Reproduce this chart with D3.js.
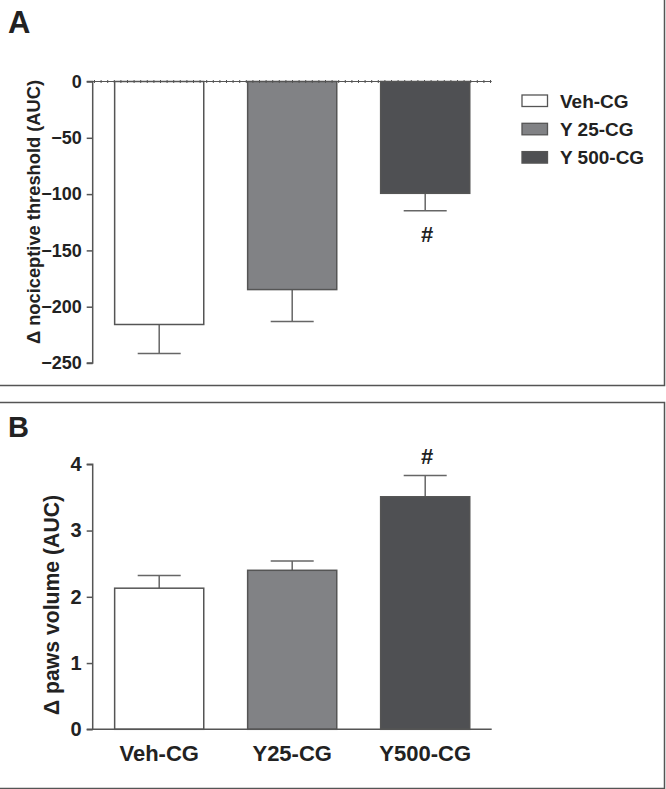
<!DOCTYPE html>
<html><head><meta charset="utf-8">
<script src="https://cdn.jsdelivr.net/npm/d3@7"></script>
<style>body{margin:0;background:#fff}svg{display:block}text{font-family:"Liberation Sans",Arial,sans-serif;font-weight:bold;fill:#222}</style>
</head><body><svg id="c" width="666" height="789"></svg>
<script>
const categories = ["Veh-CG","Y25-CG","Y500-CG"];
const legendLabels = ["Veh-CG","Y 25-CG","Y 500-CG"];
const colors = ["#ffffff","#818285","#4f5053"];
const thresholdMean = [-215.8,-184.8,-99.3];
const thresholdErr = [25.7,28.3,15.4];
const thresholdTicks = [0,-50,-100,-150,-200,-250];
const pawsMean = [2.13,2.40,3.51];
const pawsErr = [0.19,0.14,0.32];
const pawsTicks = [0,1,2,3,4];
const markA = ["","","#"];
const markB = ["","","#"];

const svg = d3.select("#c");
const axisCol = "#555";

svg.append("path").attr("d","M0,385.5 H664.5 V0").attr("fill","none").attr("stroke",axisCol).attr("stroke-width",1.5);
svg.append("path").attr("d","M0,402.5 H664.5 V788.5 H0").attr("fill","none").attr("stroke",axisCol).attr("stroke-width",1.5);

svg.append("text").attr("x",8).attr("y",33).attr("font-size",31).text("A");
svg.append("text").attr("x",8).attr("y",437).attr("font-size",29).text("B");

const x = d3.scaleBand().domain(categories).range([92.7,491.7]).paddingInner(0.33).paddingOuter(0.165);

function panel(opts){
  const g = svg.append("g");
  const y = d3.scaleLinear().domain(opts.domain).range(opts.range);
  categories.forEach((c,i)=>{
    const v = opts.mean[i];
    const y0 = y(0), y1 = y(v);
    const e = y(v + Math.sign(v)*opts.err[i]);
    const cx = x(c)+x.bandwidth()/2;
    g.append("line").attr("x1",cx).attr("x2",cx).attr("y1",y1).attr("y2",e).attr("stroke","#666").attr("stroke-width",1.5);
    g.append("line").attr("x1",cx-21.5).attr("x2",cx+21.5).attr("y1",e).attr("y2",e).attr("stroke","#666").attr("stroke-width",1.5);
    g.append("rect").attr("x",x(c)).attr("width",x.bandwidth())
      .attr("y",Math.min(y0,y1)).attr("height",Math.abs(y1-y0))
      .attr("fill",colors[i]).attr("stroke","#555").attr("stroke-width",1.5);
    if(opts.marks[i]){
      const my = v<0 ? e+opts.markOff : e-opts.markOff;
      g.append("text").attr("x",cx+2).attr("y",my).attr("text-anchor","middle").attr("font-size",22).text(opts.marks[i]);
    }
  });
  const ax = d3.axisLeft(y).tickValues(opts.ticks).tickSize(6).tickPadding(5).tickFormat(d3.format("d"));
  const ag = g.append("g").attr("transform","translate(92.7,0)").call(ax);
  ag.select(".domain").attr("stroke",axisCol).attr("stroke-width",1.5).attr("d",`M-6,${y(opts.domain[0])}H0V${y(opts.domain[1])}H-6`);
  ag.selectAll(".tick line").attr("stroke",axisCol).attr("stroke-width",1.5);
  ag.selectAll(".tick text").attr("font-size",opts.tickSize).attr("fill","#222").attr("font-family","Liberation Sans, Arial, sans-serif").attr("font-weight","bold");
  g.append("text").attr("transform",`translate(${opts.titleX},${opts.titleY}) rotate(-90)`).attr("text-anchor","middle").attr("font-size",opts.titleSize).text(opts.title);
  return {g,y};
}

const A = panel({domain:[0,-250],range:[81.5,363],mean:thresholdMean,err:thresholdErr,ticks:thresholdTicks,marks:markA,markOff:31,tickSize:18,title:"\u0394 nociceptive threshold (AUC)",titleX:39.5,titleY:212,titleSize:18.3});
A.g.append("line").attr("x1",92.7).attr("x2",491.7).attr("y1",A.y(0)).attr("y2",A.y(0)).attr("stroke",axisCol).attr("stroke-width",1);
A.g.append("line").attr("x1",94).attr("x2",491.7).attr("y1",A.y(0)).attr("y2",A.y(0)).attr("stroke",axisCol).attr("stroke-width",3).attr("stroke-dasharray","1 5.6");

const B = panel({domain:[0,4],range:[729.3,464.3],mean:pawsMean,err:pawsErr,ticks:pawsTicks,marks:markB,markOff:12,tickSize:20,title:"\u0394 paws volume (AUC)",titleX:59,titleY:605,titleSize:21.2});
B.g.append("line").attr("x1",92.7).attr("x2",491.7).attr("y1",B.y(0)).attr("y2",B.y(0)).attr("stroke",axisCol).attr("stroke-width",1.5);
B.g.selectAll(null).data(categories).enter().append("text")
  .attr("x",d=>x(d)+x.bandwidth()/2).attr("y",761).attr("text-anchor","middle").attr("font-size",22).text(d=>d);

const lg = svg.append("g");
legendLabels.forEach((l,i)=>{
  const yy = 95 + i*28.3;
  lg.append("rect").attr("x",522).attr("y",yy).attr("width",25.5).attr("height",11.5).attr("fill",colors[i]).attr("stroke","#555").attr("stroke-width",1.3);
  lg.append("text").attr("x",560).attr("y",yy+12.5).attr("font-size",19).text(l);
});
</script></body></html>
